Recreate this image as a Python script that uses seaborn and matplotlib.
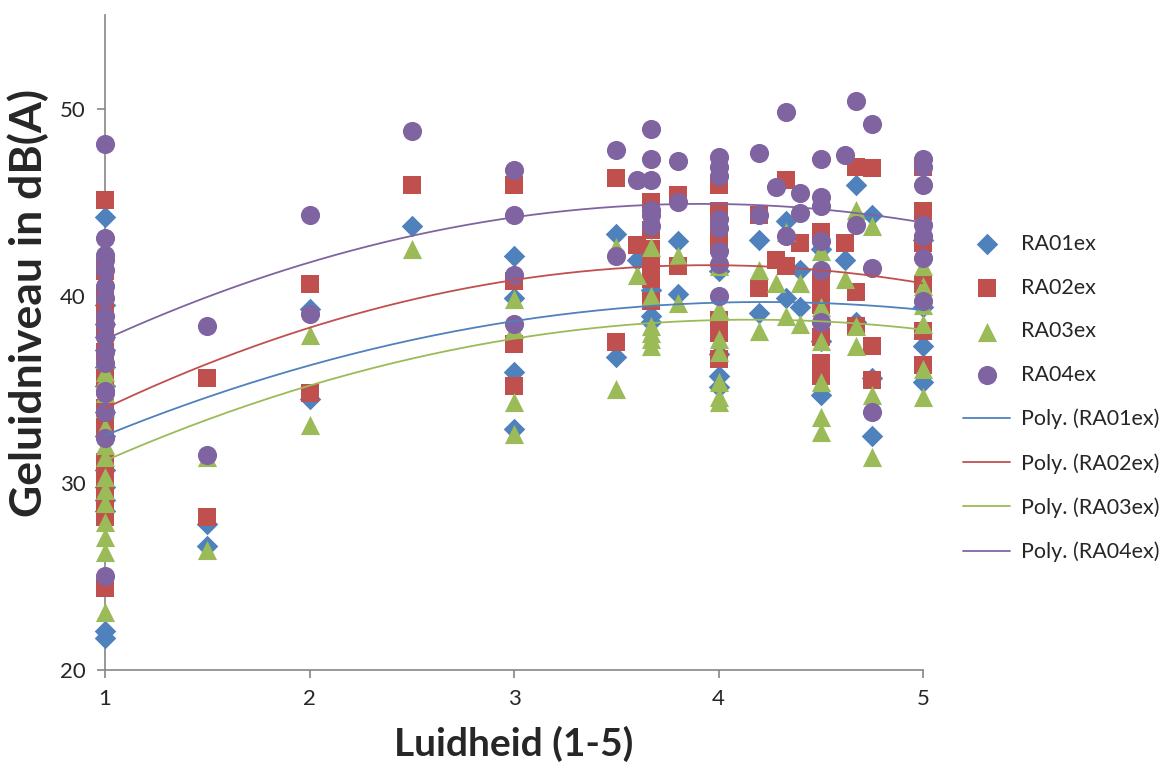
import numpy as np
import pandas as pd
import seaborn as sns
import matplotlib.pyplot as plt

# RA01ex (blauw, ruit)
ra01_x = [1]*15 + [1.5]*2 + [2]*2 + [2.5] + [3]*4 + [3.5]*2 + [3.6] + [3.67]*3 + [3.8]*2 + \
         [4]*4 + [4.2]*2 + [4.33]*2 + [4.4]*2 + [4.5]*3 + [4.62] + [4.67]*2 + [4.75]*3 + [5]*4
ra01_y = [44.2, 39.5, 38.5, 37.8, 37.1, 36.2, 35.2, 33.8, 32.5, 30.7, 29.8, 29.1, 28.5, 22.1, 21.7,
          27.8, 26.6,
          39.3, 34.5,
          43.7,
          42.1, 39.9, 35.9, 32.9,
          43.3, 36.7,
          41.9,
          40.3, 38.9, 38.6,
          42.9, 40.1,
          41.3, 36.9, 35.7, 35.1,
          43.0, 39.1,
          44.0, 39.9,
          41.4, 39.4,
          42.5, 37.6, 34.7,
          41.9,
          45.9, 38.6,
          44.3, 35.6, 32.5,
          43.0, 39.4, 37.3, 35.4]

# RA02ex (rood, vierkant)
ra02_x = [1]*15 + [1.5]*2 + [2]*2 + [2.5] + [3]*4 + [3.5]*2 + [3.6] + [3.67]*6 + [3.8]*2 + \
         [4]*8 + [4.2]*2 + [4.28] + [4.33]*2 + [4.4] + [4.5]*7 + [4.62] + [4.67]*3 + [4.75]*3 + [5]*6
ra02_y = [45.1, 41.3, 40.0, 39.0, 38.2, 37.0, 35.6, 34.0, 33.0, 31.1, 30.2, 29.3, 28.7, 28.2, 24.4,
          35.6, 28.2,
          40.6, 34.8,
          45.9,
          45.9, 40.8, 37.4, 35.2,
          46.3, 37.5,
          42.7,
          45.0, 43.5, 42.5, 41.8, 40.9, 39.7,
          45.4, 41.6,
          45.9, 44.5, 43.5, 42.7, 38.7, 38.4, 38.0, 36.6,
          44.3, 40.4,
          41.9,
          46.2, 41.6,
          42.8,
          43.4, 40.9, 40.2, 39.5, 37.8, 36.4, 35.7,
          42.8,
          46.9, 40.2, 38.4,
          46.8, 37.3, 35.5,
          46.9, 44.5, 42.8, 40.6, 38.1, 36.3]

# RA03ex (groen, driehoek)
ra03_x = [1]*16 + [1.5]*2 + [2]*2 + [2.5] + [3]*4 + [3.5]*2 + [3.6] + [3.67]*6 + [3.8]*2 + \
         [4]*8 + [4.2]*2 + [4.28] + [4.33]*2 + [4.4]*2 + [4.5]*6 + [4.62] + [4.67]*3 + [4.75]*3 + [5]*6
ra03_y = [37.4, 36.6, 35.9, 35.6, 34.8, 34.0, 33.0, 32.0, 31.4, 30.3, 29.6, 28.9, 27.9, 27.1, 26.3, 23.1,
          31.4, 26.4,
          37.9, 33.1,
          42.5,
          39.8, 38.2, 34.3, 32.6,
          42.6, 35.0,
          41.1,
          42.6, 40.0, 38.4, 38.0, 37.7, 37.3,
          42.1, 39.6,
          41.6, 39.3, 39.2, 37.7, 37.0, 35.4, 34.6, 34.3,
          41.4, 38.1,
          40.7,
          43.4, 38.9,
          40.7, 38.5,
          42.4, 39.4, 37.6, 35.4, 33.5, 32.7,
          40.9,
          44.6, 38.4, 37.3,
          43.7, 34.7, 31.4,
          41.6, 40.5, 39.5, 38.5, 36.1, 34.6]

# RA04ex (paars, cirkel)
ra04_x = [1]*17 + [1.5]*2 + [2]*2 + [2.5] + [3]*4 + [3.5]*2 + [3.6] + [3.67]*6 + [3.8]*2 + \
         [4]*8 + [4.2]*2 + [4.28] + [4.33]*2 + [4.4]*2 + [4.5]*6 + [4.62] + [4.67]*2 + [4.75]*3 + [5]*7
ra04_y = [48.1, 43.1, 42.2, 41.9, 41.4, 40.5, 39.9, 38.9, 38.5, 37.8, 37.0, 36.4, 34.9, 34.8, 33.8, 32.4, 25.0,
          38.4, 31.5,
          44.3, 39.0,
          48.8,
          46.7, 44.3, 41.1, 38.5,
          47.8, 42.1,
          46.2,
          48.9, 47.3, 46.2, 44.6, 44.3, 43.7,
          47.2, 45.0,
          47.4, 46.9, 46.4, 44.1, 43.6, 42.4, 41.7, 40.0,
          47.6, 44.3,
          45.8,
          49.8, 43.2,
          45.5, 44.4,
          47.3, 45.3, 44.8, 42.9, 41.4, 38.6,
          47.5,
          50.4, 43.8,
          49.2, 41.5, 33.8,
          47.3, 46.9, 45.9, 43.8, 43.2, 42.0, 39.7]

series = ['RA01ex', 'RA02ex', 'RA03ex', 'RA04ex']
xs = [ra01_x, ra02_x, ra03_x, ra04_x]
ys = [ra01_y, ra02_y, ra03_y, ra04_y]
kleuren = ['#4F81BD', '#C0504D', '#9BBB59', '#8064A2']
markers = ['D', 's', '^', 'o']
groottes = [120, 150, 190, 190]

sns.set_style('white')
plt.rcParams['font.family'] = ['Lato', 'DejaVu Sans']

fig = plt.figure(figsize=(11.7, 7.71), dpi=100)
ax = fig.add_axes([105/1170, 1 - 670/771, (923-105)/1170, (670-15)/771])

# scatter per reeks
for naam, x, y, c, m, s in zip(series, xs, ys, kleuren, markers, groottes):
    df = pd.DataFrame({'x': x, 'y': y})
    sns.scatterplot(x='x', y='y', data=df, color=c, marker=m, s=s,
                    linewidth=0, label=naam, ax=ax, zorder=3, clip_on=False)

# polynomische trendlijn (orde 2), zoals in Excel
grid = np.linspace(1, 5, 200)
for naam, x, y, c in zip(series, xs, ys, kleuren):
    coef = np.polyfit(x, y, 2)
    sns.lineplot(x=grid, y=np.polyval(coef, grid), color=c, linewidth=1.3,
                 label='Poly. (' + naam + ')', ax=ax, zorder=4)

ax.set_xlim(1, 5)
ax.set_ylim(20, 55)
ax.set_xticks([1, 2, 3, 4, 5])
ax.set_yticks([20, 30, 40, 50])
for kant in ['top', 'right']:
    ax.spines[kant].set_visible(False)
for kant in ['left', 'bottom']:
    ax.spines[kant].set_color('#868686')
    ax.spines[kant].set_linewidth(1.2)
ax.tick_params(axis='both', direction='out', length=6, width=1.2, color='#868686',
               labelsize=16, pad=8, left=True, bottom=True)

ax.set_xlabel('Luidheid (1-5)', fontsize=28, fontweight='bold', labelpad=12)
ax.set_ylabel('Geluidniveau in dB(A)', fontsize=32, fontweight='bold')
ax.yaxis.set_label_coords(-0.069, 0.56)

ax.legend(loc='center left', bbox_to_anchor=(1.025, 0.415), frameon=False,
          fontsize=15.5, labelspacing=1.1, handlelength=2.2, handletextpad=0.5)

fig.savefig('out.png', dpi=100)
